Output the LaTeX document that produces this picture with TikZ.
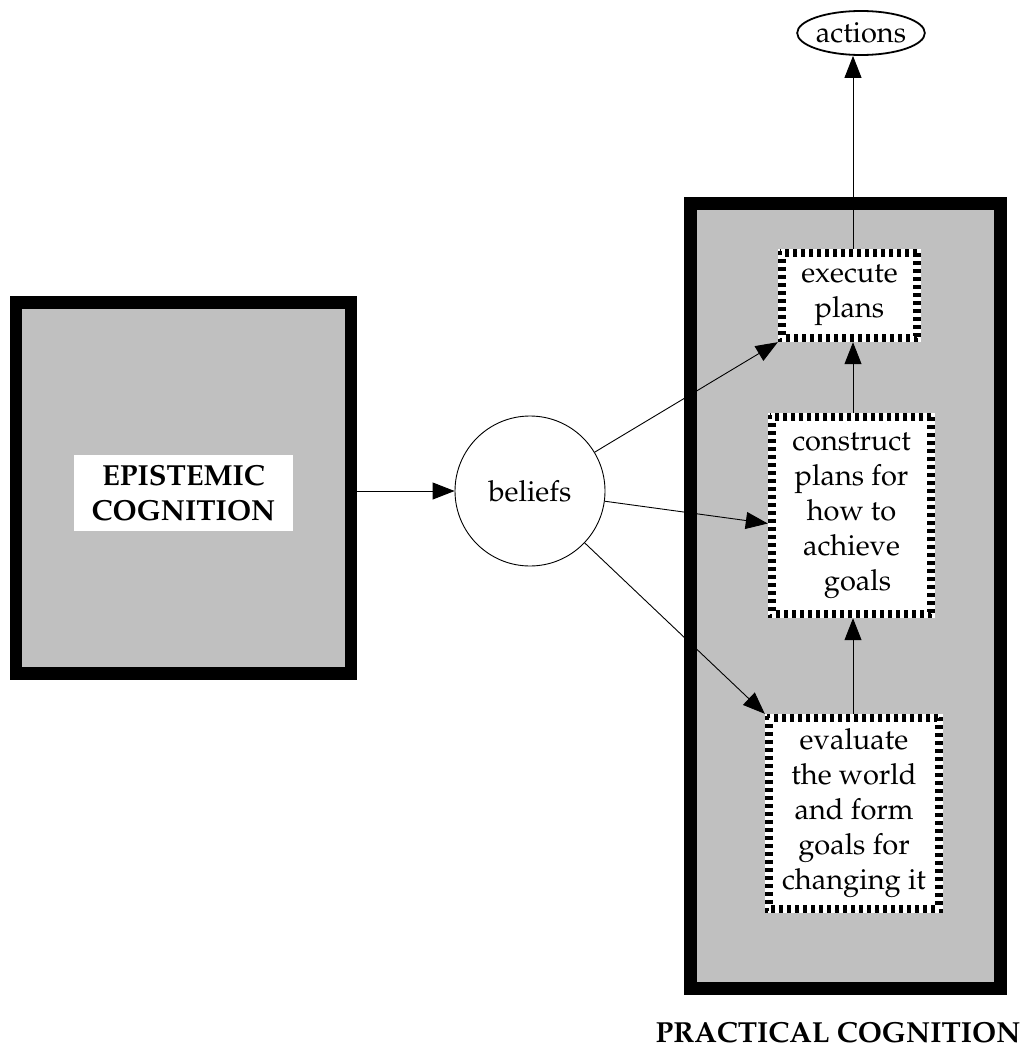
\documentclass[tikz,border=0pt]{standalone}
\usepackage[T1]{fontenc}
\usepackage{mathpazo}
\usetikzlibrary{arrows.meta,calc,shapes.geometric}
\definecolor{panel}{RGB}{192,192,192}
\begin{document}
\begin{tikzpicture}[x=1pt,y=-1pt,
  every node/.style={font=\fontsize{29}{35}\selectfont},
  frame/.style={draw=black, fill=panel, line width=13pt, inner sep=0pt},
  heading/.style={font=\fontsize{29}{35}\selectfont\bfseries, align=center},
  task/.style={fill=white, inner sep=0pt, align=center},
  link/.style={-{Triangle[length=22pt,width=17pt]}, line width=0.9pt},
  chk/.style={line width=4pt, dash pattern=on 4pt off 4pt}]
\useasboundingbox (0,0) rectangle (1027,1051);

% the two cognition panels
\node[frame, line width=12.5pt, minimum width=335pt, minimum height=371pt] (epi) at (183.6,487.8) {};
\node[task, heading, minimum width=219pt, minimum height=76pt] (epilabel) at (183.5,493) {EPISTEMIC\\COGNITION};
\node[frame, minimum width=310pt, minimum height=785pt] (prac) at (845.5,596) {};
\node[heading, anchor=base east] (praclabel) at (1024,1042) {PRACTICAL COGNITION};

% the three stages of practical cognition
\node[task, minimum width=143pt, minimum height=93pt] (exec) at (849.5,295.5) {execute\\plans};
\node[task, minimum width=167pt, minimum height=205pt] (cons) at (851.5,515.5) {construct\\plans for\\how to\\achieve\\\hspace*{12pt}goals};
\node[task, minimum width=178pt, minimum height=199pt] (eval) at (854,813.5) {evaluate\\the world\\and form\\goals for\\changing it};

% checkered borders: two rows of alternating squares
\foreach \n in {exec,cons,eval} {
  \draw[chk] ($(\n.north west)+(2,2)$) rectangle ($(\n.south east)+(-2,-2)$);
  \draw[chk, dash phase=4pt] ($(\n.north west)+(6,6)$) rectangle ($(\n.south east)+(-6,-6)$);
}

\node[circle, draw, line width=0.9pt, fill=white, minimum size=150pt, inner sep=0pt] (beliefs) at (530,491) {beliefs};
\node[ellipse, draw, line width=1.8pt, minimum width=118pt, minimum height=44pt, inner sep=0pt] (actions) at (861,33) {actions};

\coordinate (axis) at (853,0);

% connectors
\draw[link] (epi.east |- beliefs.west) -- (beliefs.west);
\draw[link] (beliefs) -- (exec.south west);
\draw[link] (beliefs) -- ([yshift=-8pt]cons.west);
\draw[link] (beliefs) -- (eval.north west);
\draw[link] (eval.north -| axis) -- (cons.south -| axis);
\draw[link] (cons.north -| axis) -- (exec.south -| axis);
\draw[link] (exec.north -| axis) -- (actions.south -| axis);
\end{tikzpicture}
\end{document}
